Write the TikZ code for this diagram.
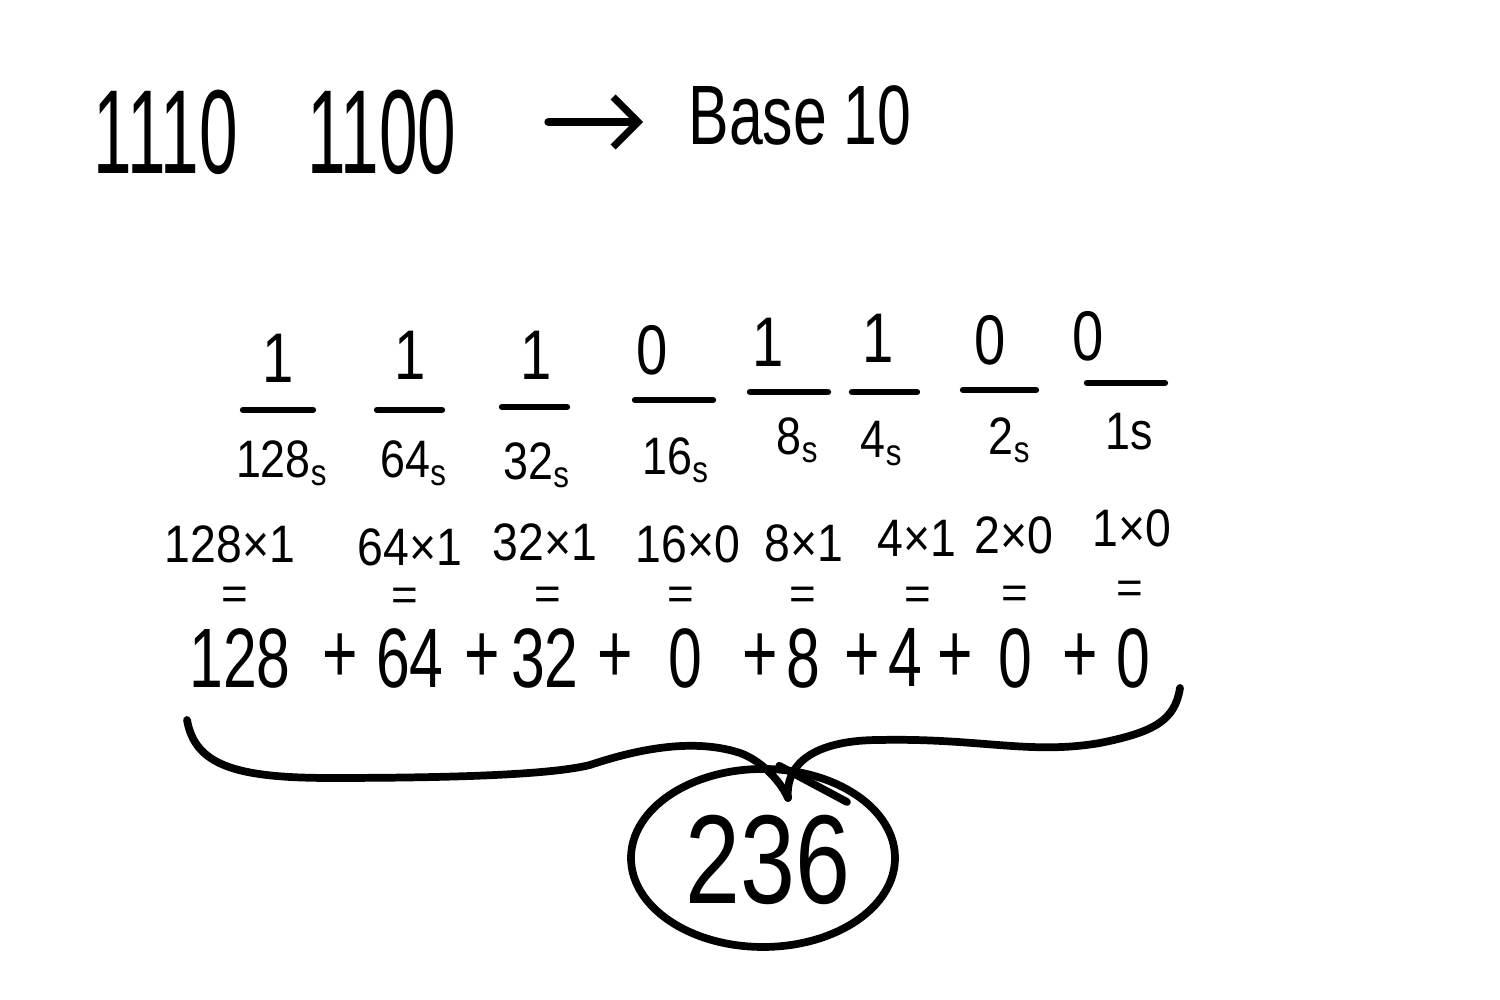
\documentclass[tikz,border=0pt]{standalone}
\usepackage{fontspec}
\setmainfont{Liberation Sans}
\usepackage{tikz}
\usetikzlibrary{arrows.meta, positioning, calc, shapes.geometric}

\begin{document}
\begin{tikzpicture}[
    title/.style={font=\fontsize{34}{40}\selectfont, xscale=.58, inner sep=0},
    bigtxt/.style={font=\fontsize{24}{28}\selectfont, xscale=.72, inner sep=0},
    bit/.style={font=\fontsize{20}{24}\selectfont, xscale=.8, inner sep=0},
    place/.style={font=\fontsize{15}{18}\selectfont, xscale=.85, inner sep=0, anchor=base},
    prod/.style={font=\fontsize{15}{18}\selectfont, xscale=.88, inner sep=0},
    eq/.style={font=\fontsize{13}{15}\selectfont, inner sep=0},
    term/.style={font=\fontsize{24}{28}\selectfont, xscale=.72, inner sep=0},
    bar/.style={line width=1.8pt, line cap=round},
    pen/.style={line width=2.2pt, line cap=round, line join=round},
    arrow/.style={-{Straight Barb[length=2.5mm, width=5mm, line width=2pt]}, line width=2.4pt, line cap=round}
]
    \useasboundingbox[fill=white] (0,0) rectangle (15,10);

    % heading
    \node[title] (num) at (2.75,8.68) {1110\quad 1100};
    \node[bigtxt] (base) at (8.00,8.85) {Base 10};
    \draw[arrow, shorten <=0.92cm, shorten >=0.45cm] ([yshift=0.1cm]num.east) -- ([yshift=0.1cm]num.east -| base.west);

    % digits over their place values
    \foreach \x/\y/\d [count=\i] in {2.78/6.42/1, 4.10/6.45/1, 5.36/6.45/1, 6.52/6.50/0,
                                     7.68/6.58/1, 8.78/6.62/1, 9.90/6.60/0, 10.88/6.64/0}
        \node[bit] (bit\i) at (\x,\y) {\d};
    \foreach \a/\b/\y in {2.43/3.13/5.90, 3.77/4.42/5.90, 5.02/5.67/5.93, 6.35/7.13/6.00,
                          7.50/8.28/6.08, 8.52/9.17/6.08, 9.63/10.36/6.10, 10.87/11.65/6.17}
        \draw[bar] (\a,\y) -- (\b,\y);
    \foreach \x/\y/\t [count=\i] in {2.82/5.22/128\textsubscript{s}, 4.14/5.22/64\textsubscript{s},
                                     5.37/5.20/32\textsubscript{s}, 6.76/5.25/16\textsubscript{s},
                                     7.98/5.45/8\textsubscript{s}, 8.82/5.42/4\textsubscript{s},
                                     10.10/5.45/2\textsubscript{s}, 11.29/5.50/1s}
        \node[place] (pv\i) at (\x,\y) {\t};

    % products
    \foreach \x/\y/\t [count=\i] in {2.30/4.56/128×1, 4.10/4.53/64×1, 5.45/4.58/32×1, 6.88/4.56/16×0,
                                     8.04/4.57/8×1, 9.17/4.62/4×1, 10.14/4.65/2×0, 11.32/4.72/1×0}
        \node[prod] (pr\i) at (\x,\y) {\t};
    \foreach \x/\y [count=\i] in {2.35/4.02, 4.05/4.01, 5.48/4.02, 6.81/4.02,
                                  8.03/4.02, 9.18/4.02, 10.15/4.03, 11.30/4.08}
        \node[eq] (eq\i) at (\x,\y) {=};

    % the sum
    \foreach \x/\t [count=\i] in {2.40/128, 3.40/+, 4.10/64, 4.82/+, 5.45/32, 6.15/+, 6.85/0, 7.60/+,
                                  8.03/8, 8.62/+, 9.05/4, 9.55/+, 10.15/0, 10.80/+, 11.33/0}
        \node[term] (sum\i) at (\x,3.42) {\t};

    % brace and result
    \coordinate (bl) at (1.87,2.80);
    \coordinate (br) at (11.80,3.12);
    \coordinate (tip) at (7.88,2.02);
    \node[draw, ellipse, line width=2.2pt, minimum width=2.64cm, minimum height=1.78cm, inner sep=0] (res) at (7.63,1.42) {};
    \node[font=\fontsize{36}{42}\selectfont, xscale=.78, inner sep=0] (total) at (7.68,1.40) {236};
    \coordinate (tail) at (8.47,1.98);

    \draw[pen] (bl) .. controls (1.95,2.35) and (2.35,2.22) .. (3.30,2.22)
        .. controls (4.50,2.22) and (5.50,2.25) .. (5.90,2.35)
        .. controls (6.50,2.55) and (7.00,2.60) .. (7.40,2.47)
        .. controls (7.60,2.40) and (7.80,2.20) .. (tip);
    \draw[pen] (br) .. controls (11.75,2.80) and (11.55,2.68) .. (11.00,2.57)
        .. controls (10.30,2.45) and (9.80,2.62) .. (8.80,2.60)
        .. controls (8.20,2.60) and (7.85,2.40) .. (tip);
    \draw[pen] (res.80) -- (tail);
\end{tikzpicture}
\end{document}
